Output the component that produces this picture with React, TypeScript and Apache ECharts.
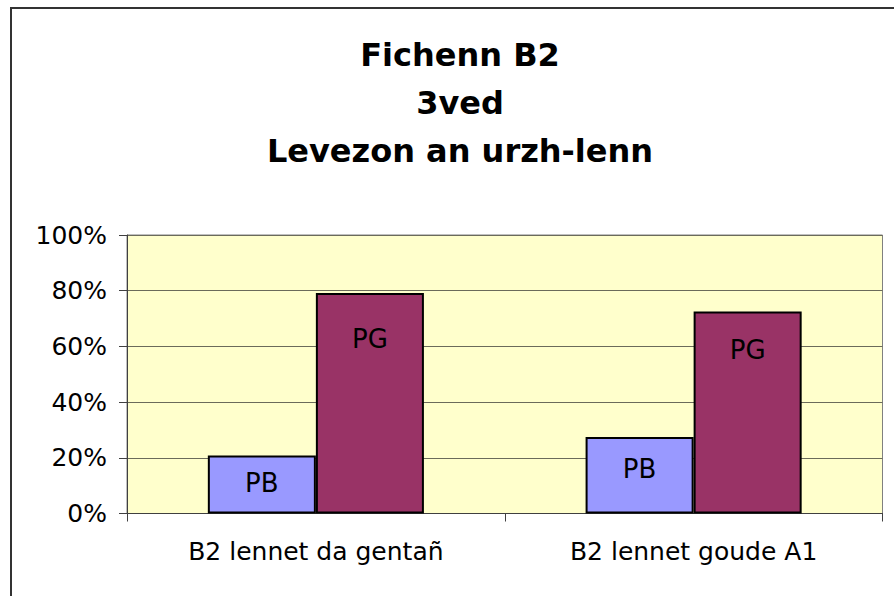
import React, { useEffect, useRef } from "react";
import * as echarts from "echarts";

const titleLines = ["Fichenn B2", "3ved", "Levezon an urzh-lenn"];
const categories = ["B2 lennet da gentañ", "B2 lennet goude A1"];
const pbValues = [20.8, 27.5];
const pgValues = [79.2, 72.5];
const seriesNames = ["PB", "PG"];
const yTicks = { min: 0, max: 100, interval: 20 };

const FONT = "DejaVu Sans";

export default function App() {
  const ref = useRef<HTMLDivElement>(null);
  useEffect(() => {
    if (!ref.current) return;
    const chart = echarts.init(ref.current, undefined, { renderer: "svg" });
    const pbDist = [14, 19];
    const pgDist = [33, 25];
    chart.setOption({
      animation: false,
      backgroundColor: "#ffffff",
      title: {
        text: titleLines.join("\n"),
        left: 455,
        top: 26,
        textAlign: "center",
        textStyle: {
          fontFamily: FONT,
          fontWeight: "bold",
          fontSize: 32,
          lineHeight: 48,
          color: "#000",
        },
      },
      graphic: [
        {
          type: "rect",
          shape: { x: 11, y: 8, width: 1000, height: 1000 },
          style: { fill: "none", stroke: "#333", lineWidth: 2 },
          silent: true,
        },
      ],
      grid: {
        left: 127,
        top: 235,
        right: 11.5,
        bottom: 82.5,
        show: true,
        backgroundColor: "#FFFFCC",
        borderColor: "#808080",
        borderWidth: 1,
      },
      xAxis: {
        type: "category",
        data: categories,
        axisLine: { show: true, lineStyle: { color: "#404040", width: 1 } },
        axisTick: { show: true, length: 8, alignWithLabel: false, lineStyle: { color: "#404040" } },
        axisLabel: {
          fontFamily: FONT,
          fontSize: 25,
          color: "#000",
          margin: 25,
        },
        splitLine: { show: false },
      },
      yAxis: {
        type: "value",
        min: yTicks.min,
        max: yTicks.max,
        interval: yTicks.interval,
        axisLine: { show: true, lineStyle: { color: "#404040", width: 1 } },
        axisTick: { show: true, length: 8, lineStyle: { color: "#404040" } },
        axisLabel: {
          fontFamily: FONT,
          fontSize: 25,
          color: "#000",
          margin: 20,
          formatter: "{value}%",
        },
        splitLine: { show: true, lineStyle: { color: "#6b6b5a", width: 1 } },
      },
      series: [
        {
          name: seriesNames[0],
          type: "bar",
          data: pbValues.map((v, i) => ({
            value: v,
            label: { distance: pbDist[i] },
          })),
          barGap: "0%",
          barCategoryGap: "42.8%",
          itemStyle: { color: "#9999FF", borderColor: "#000", borderWidth: 2 },
          label: {
            show: true,
            position: "insideTop",
            formatter: () => seriesNames[0],
            fontFamily: FONT,
            fontSize: 26,
            lineHeight: 26,
            color: "#000",
          },
        },
        {
          name: seriesNames[1],
          type: "bar",
          data: pgValues.map((v, i) => ({
            value: v,
            label: { distance: pgDist[i] },
          })),
          barGap: "0%",
          barCategoryGap: "42.8%",
          itemStyle: { color: "#993366", borderColor: "#000", borderWidth: 2 },
          label: {
            show: true,
            position: "insideTop",
            formatter: () => seriesNames[1],
            fontFamily: FONT,
            fontSize: 26,
            lineHeight: 26,
            color: "#000",
          },
        },
      ],
    });
    return () => chart.dispose();
  }, []);
  return (
    <div
      ref={ref}
      style={{ position: "fixed", left: 0, top: 0, width: 894, height: 596 }}
    />
  );
}
